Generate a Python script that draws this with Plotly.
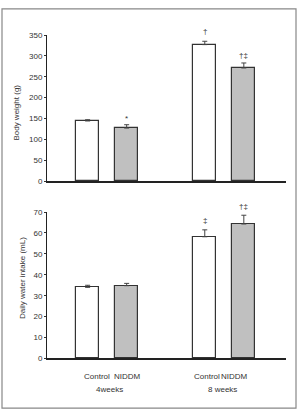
import plotly.graph_objects as go

groups = ["Control 4wk", "NIDDM 4wk", "Control 8wk", "NIDDM 8wk"]
positions = [1, 2, 4, 5]
bw_means = [144, 127, 327, 271]
bw_err = [3, 8, 8, 12]
bw_marks = ["", "*", "\u2020", "\u2020\u2021"]
bw_mark_y = [0, 150, 358, 302]
water_means = [34.0, 34.8, 58.2, 64.3]
water_err = [1.0, 1.1, 3.3, 4.2]
water_marks = ["", "", "\u2021", "\u2020\u2021"]
water_mark_y = [0, 0, 65.8, 72.8]
bar_colors = ["white", "#c0c0c0", "white", "#c0c0c0"]
bottom_labels = ["Control", "NIDDM", "Control", "NIDDM"]
week_labels = ["4weeks", "8 weeks"]

W, H = 298, 415
FONT = "Liberation Sans, Arial, sans-serif"
FS = 8
TXT = "#333333"

def py(p):
    return 1 - p / H

def px(p):
    return p / W

fig = go.Figure()
for yax, means, errs in [("y", bw_means, bw_err), ("y2", water_means, water_err)]:
    fig.add_trace(go.Bar(
        x=positions, y=means, width=0.59,
        marker=dict(color=bar_colors, line=dict(color="#333333", width=1.2)),
        error_y=dict(type="data", array=errs, arrayminus=[0] * len(errs), symmetric=False,
                     color="#444444", thickness=1, width=2.5),
        xaxis="x" if yax == "y" else "x2", yaxis=yax, showlegend=False,
    ))

xdom = [px(47), px(286)]
axis_common = dict(showgrid=False, zeroline=False, showline=True, linecolor="#222222")
fig.update_layout(
    width=W, height=H, margin=dict(l=0, r=0, t=0, b=0),
    paper_bgcolor="white", plot_bgcolor="white",
    font=dict(family=FONT, size=FS, color=TXT),
    bargap=0,
    xaxis=dict(domain=xdom, range=[-0.04, 6.08], showticklabels=False, ticks="",
               anchor="y", linewidth=1.5, **axis_common),
    xaxis2=dict(domain=xdom, range=[-0.04, 6.08], showticklabels=False, ticks="",
                anchor="y2", linewidth=1.5, **axis_common),
    yaxis=dict(domain=[py(181), py(31.7)], range=[0, 350], dtick=50, ticks="outside",
               ticklen=2, tickcolor="#333333", linewidth=1, anchor="x",
               tickfont=dict(size=FS, color=TXT), **axis_common),
    yaxis2=dict(domain=[py(362.3), py(212.7)], range=[0, 70], dtick=10, ticks="outside",
                ticklen=2, tickcolor="#333333", linewidth=1, anchor="x2",
                tickfont=dict(size=FS, color=TXT), **axis_common),
)

ann = []
def mark(xref, yref, pos, yy, top, pxper, text):
    if yy > top:
        shift = (yy - top) * pxper
        yy = top
    else:
        shift = 0
    return dict(x=pos, y=yy, xref=xref, yref=yref, text=text, showarrow=False,
                xanchor="center", yanchor="middle", yshift=shift,
                font=dict(size=FS, color=TXT))

for pos, m, yy in zip(positions, bw_marks, bw_mark_y):
    if m:
        ann.append(mark("x", "y", pos, yy, 350, 149.3 / 350, m))
for pos, m, yy in zip(positions, water_marks, water_mark_y):
    if m:
        ann.append(mark("x2", "y2", pos, yy, 70, 149.6 / 70, m))

def ptext(x, y, text, angle=0):
    return dict(x=px(x), y=py(y), xref="paper", yref="paper", text=text,
                textangle=angle, showarrow=False, xanchor="center", yanchor="middle",
                font=dict(size=FS, color=TXT))

ann.append(ptext(17, 111, "Body weight (g)", -90))
ann.append(ptext(23, 280, "Daily water intake (mL)", -90))
for xx, t in zip([97, 127, 207, 234], bottom_labels):
    ann.append(ptext(xx, 381, t))
for xx, t in zip([109, 222], week_labels):
    ann.append(ptext(xx, 394, t))
fig.update_layout(annotations=ann)

fig.add_shape(type="rect", xref="paper", yref="paper",
              x0=px(2), x1=px(296), y0=py(413), y1=py(5),
              line=dict(color="#888888", width=1.2))

fig.write_html("out.html")
